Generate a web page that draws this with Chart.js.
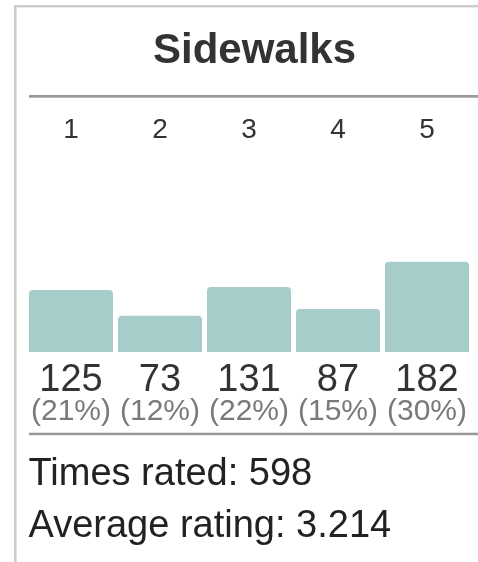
<!DOCTYPE html>
<html>
<head>
<meta charset="utf-8">
<script src="https://cdn.jsdelivr.net/npm/chart.js@4"></script>
<style>
  html, body { margin: 0; padding: 0; background: #fff; overflow: hidden; }
  #wrap { position: relative; width: 478px; height: 562px; overflow: hidden; }
  canvas { display: block; }
</style>
</head>
<body>
<div id="wrap"><canvas id="c" width="490" height="562" style="width:490px;height:562px"></canvas></div>
<script>
const titleText = 'Sidewalks';
const categories = ['1', '2', '3', '4', '5'];
const counts = [125, 73, 131, 87, 182];
const timesRatedLabel = 'Times rated: ';
const averageLabel = 'Average rating: ';

const total = counts.reduce((a, b) => a + b, 0);
const average = counts.reduce((s, v, i) => s + v * Number(categories[i]), 0) / total;

const FONT = '"Liberation Sans", Arial, Helvetica, sans-serif';

const decorPlugin = {
  id: 'decor',
  beforeDraw(chart) {
    const ctx = chart.ctx;
    ctx.save();
    ctx.fillStyle = '#cccccc';
    ctx.fillRect(14, 5, 2.6, 562);
    ctx.fillRect(14, 5, 480, 2.4);
    ctx.fillStyle = '#999999';
    ctx.fillRect(29, 95, 470, 2.7);
    ctx.fillRect(29, 432.7, 470, 2.5);
    ctx.restore();
  },
  afterDatasetsDraw(chart) {
    const ctx = chart.ctx;
    const meta = chart.getDatasetMeta(0);
    const bottom = chart.chartArea.bottom;
    ctx.save();
    ctx.textAlign = 'center';
    ctx.textBaseline = 'alphabetic';
    meta.data.forEach((bar, i) => {
      const v = counts[i];
      ctx.fillStyle = '#333333';
      ctx.font = '38px ' + FONT;
      ctx.fillText(String(v), bar.x, bottom + 39);
      ctx.fillStyle = '#7a7a7a';
      ctx.font = '30px ' + FONT;
      ctx.fillText('(' + Math.round(v / total * 100) + '%)', bar.x, bottom + 68);
    });
    ctx.textAlign = 'left';
    ctx.fillStyle = '#222222';
    ctx.font = '38px ' + FONT;
    ctx.fillText(timesRatedLabel + total, 28.5, 485);
    ctx.fillText(averageLabel + average.toFixed(3), 28.5, 537);
    ctx.restore();
  }
};

new Chart(document.getElementById('c'), {
  type: 'bar',
  data: {
    labels: categories,
    datasets: [{
      data: counts,
      backgroundColor: '#a6cdca',
      borderWidth: 0,
      borderRadius: { topLeft: 4, topRight: 4, bottomLeft: 0, bottomRight: 0 },
      borderSkipped: 'bottom',
      barPercentage: 0.944,
      categoryPercentage: 1.0
    }]
  },
  options: {
    responsive: false,
    animation: false,
    devicePixelRatio: 1,
    layout: { padding: { top: 0, left: 26.5, right: 7.5, bottom: 210 } },
    plugins: {
      legend: { display: false },
      tooltip: { enabled: false },
      title: {
        display: true,
        text: titleText,
        color: '#333333',
        font: { family: FONT, size: 42, weight: 'bold', lineHeight: 1.2 },
        padding: { top: 25.8, bottom: 34 }
      }
    },
    scales: {
      x: {
        position: 'top',
        grid: { display: false, drawTicks: false },
        border: { display: false },
        ticks: { color: '#333333', font: { family: FONT, size: 28, lineHeight: 1.2 }, padding: 3, maxRotation: 0 }
      },
      y: {
        position: 'right',
        min: 0,
        max: 408,
        grid: { display: false, drawTicks: false },
        border: { display: false },
        ticks: { display: false },
        afterFit(scale) { scale.width = 11; }
      }
    }
  },
  plugins: [decorPlugin]
});
</script>
</body>
</html>
